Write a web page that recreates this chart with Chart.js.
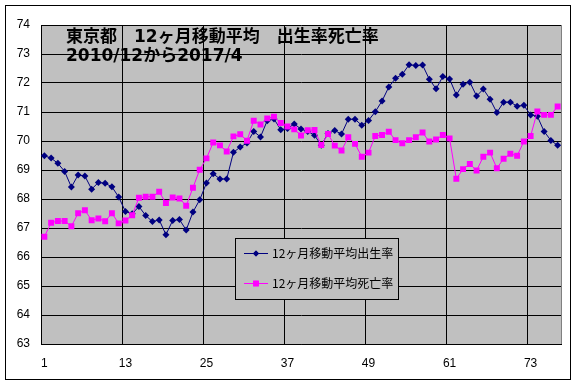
<!DOCTYPE html>
<html lang="ja">
<head>
  <meta charset="UTF-8" />
  <title>東京都 12ヶ月移動平均 出生率死亡率</title>
  <script src="https://cdn.jsdelivr.net/npm/chart.js"></script>
  <style>
    * { margin: 0; padding: 0; box-sizing: border-box; }
    body { background: #fff; width: 576px; height: 385px; overflow: hidden; }
    #wrap { position: relative; width: 576px; height: 385px; }
  </style>
</head>
<body>
<div id="wrap"><canvas id="chart" width="576" height="385"></canvas></div>

<script>
  // 2010/12 .. 2017/4, 77 months
  const tickLabels = ['1', '13', '25', '37', '49', '61', '73'];
  const titleLines = ['東京都　12ヶ月移動平均　出生率死亡率', '2010/12から2017/4'];
  const seriesNames = ['12ヶ月移動平均出生率', '12ヶ月移動平均死亡率'];

  const birthRate = [
    69.49, 69.41, 69.23, 68.95, 68.41, 68.83, 68.79, 68.34, 68.57, 68.54, 68.42, 68.07,
    67.57, 67.49, 67.74, 67.43, 67.22, 67.28, 66.77, 67.26, 67.29, 66.93, 67.55, 67.97,
    68.55, 68.87, 68.69, 68.69, 69.61, 69.79, 69.93, 70.33, 70.14, 70.70, 70.76, 70.39,
    70.43, 70.59, 70.41, 70.33, 70.20, 69.85, 70.26, 70.36, 70.24, 70.75, 70.75, 70.54,
    70.71, 71.01, 71.38, 71.86, 72.16, 72.30, 72.63, 72.60, 72.62, 72.13, 71.80, 72.22,
    72.14, 71.59, 71.96, 72.03, 71.55, 71.79, 71.44, 70.98, 71.34, 71.34, 71.20, 71.23,
    70.90, 70.85, 70.33, 70.02, 69.85
  ];
  const deathRate = [
    66.70, 67.18, 67.24, 67.24, 67.06, 67.51, 67.61, 67.27, 67.33, 67.23, 67.51, 67.16,
    67.26, 67.44, 68.04, 68.08, 68.08, 68.25, 67.86, 68.05, 68.02, 67.77, 68.39, 69.01,
    69.40, 69.95, 69.85, 69.64, 70.16, 70.23, 70.01, 70.70, 70.57, 70.78, 70.84, 70.62,
    70.50, 70.40, 70.19, 70.37, 70.38, 69.86, 70.24, 69.84, 69.67, 70.13, 69.90, 69.46,
    69.60, 70.17, 70.21, 70.32, 70.03, 69.92, 70.03, 70.13, 70.29, 69.98, 70.05, 70.21,
    70.09, 68.70, 69.03, 69.21, 68.98, 69.46, 69.60, 69.06, 69.39, 69.56, 69.49, 69.98,
    70.17, 71.02, 70.90, 70.90, 71.19
  ];

  const months = birthRate.map((v, i) => String(i + 1));

  const NAVY = '#000080';
  const PINK = '#ff00ff';
  const PLOT_BG = '#c0c0c0';

  // white page, outer frame, gray plot area
  const backdrop = {
    id: 'backdrop',
    beforeDraw(chart) {
      const { ctx, chartArea: a } = chart;
      ctx.save();
      ctx.fillStyle = '#fff';
      ctx.fillRect(0, 0, chart.width, chart.height);
      ctx.strokeStyle = '#000';
      ctx.lineWidth = 1;
      ctx.strokeRect(5.5, 5.5, 565, 374);
      ctx.fillStyle = PLOT_BG;
      ctx.fillRect(a.left, a.top, a.right - a.left, a.bottom - a.top);
      ctx.restore();
    },
    afterDraw(chart) {
      const { ctx, chartArea: a } = chart;
      ctx.save();
      // right edge of plot
      ctx.strokeStyle = '#808080';
      ctx.beginPath();
      ctx.moveTo(a.right + 0.5, a.top);
      ctx.lineTo(a.right + 0.5, a.bottom);
      ctx.stroke();

      // title inside the plot
      ctx.fillStyle = '#000';
      ctx.font = 'bold 17px "DejaVu Sans", "Noto Sans CJK JP"';
      ctx.textBaseline = 'middle';
      ctx.fillText(titleLines[0], 66, 38);
      ctx.fillText(titleLines[1], 66, 57);

      // legend box
      const lx = 235.5, ly = 238.5, lw = 163, lh = 61;
      ctx.fillStyle = PLOT_BG;
      ctx.fillRect(lx, ly, lw, lh);
      ctx.strokeStyle = '#000';
      ctx.strokeRect(lx, ly, lw, lh);
      const rows = [
        { y: 253.5, color: NAVY, style: 'rectRot', r: 3 },
        { y: 283.5, color: PINK, style: 'rect', r: 4 }
      ];
      rows.forEach((row, i) => {
        ctx.strokeStyle = row.color;
        ctx.lineWidth = 1;
        ctx.beginPath();
        ctx.moveTo(244, row.y);
        ctx.lineTo(268, row.y);
        ctx.stroke();
        ctx.fillStyle = row.color;
        Chart.helpers.drawPoint(ctx, { pointStyle: row.style, radius: row.r, rotation: 0, borderWidth: 0 }, 256, row.y);
        ctx.fill();
        ctx.fillStyle = '#000';
        ctx.font = '12px "Noto Sans CJK JP"';
        ctx.textBaseline = 'middle';
        ctx.fillText(seriesNames[i], 272, row.y);
      });
      ctx.restore();
    }
  };

  new Chart(document.getElementById('chart'), {
    type: 'line',
    data: {
      labels: months,
      datasets: [
        {
          label: seriesNames[0],
          data: birthRate,
          borderColor: NAVY,
          backgroundColor: NAVY,
          borderWidth: 1,
          pointStyle: 'rectRot',
          pointRadius: 3.5,
          pointBorderWidth: 0,
          tension: 0,
          order: 1
        },
        {
          label: seriesNames[1],
          data: deathRate,
          borderColor: PINK,
          backgroundColor: PINK,
          borderWidth: 1,
          pointStyle: 'rect',
          pointRadius: 4.2,
          pointBorderWidth: 0,
          tension: 0,
          order: 0
        }
      ]
    },
    options: {
      responsive: false,
      animation: false,
      layout: { padding: { left: 0, right: 15, top: 25, bottom: 0 } },
      plugins: {
        legend: { display: false },
        tooltip: { enabled: false }
      },
      scales: {
        x: {
          offset: true,
          grid: {
            offset: true,
            drawTicks: false,
            color: ctx => (ctx.index % 12 === 0 ? '#000' : 'rgba(0,0,0,0)'),
            lineWidth: 1
          },
          border: { color: '#000' },
          ticks: {
            autoSkip: false,
            maxRotation: 0,
            minRotation: 0,
            padding: 12,
            color: '#000',
            font: { family: 'Liberation Sans', size: 12 },
            callback: function (value, index) {
              const lab = this.getLabelForValue(value);
              return tickLabels.includes(lab) ? lab : '';
            }
          },
          afterFit: scale => { scale.height = 41; }
        },
        y: {
          min: 63,
          max: 74,
          grid: { color: '#000', drawTicks: false, lineWidth: 1 },
          border: { color: '#000' },
          ticks: {
            stepSize: 1,
            padding: 11,
            color: '#000',
            font: { family: 'Liberation Sans', size: 12 }
          },
          afterFit: scale => { scale.width = 41; }
        }
      }
    },
    plugins: [backdrop]
  });
</script>
</body>
</html>
